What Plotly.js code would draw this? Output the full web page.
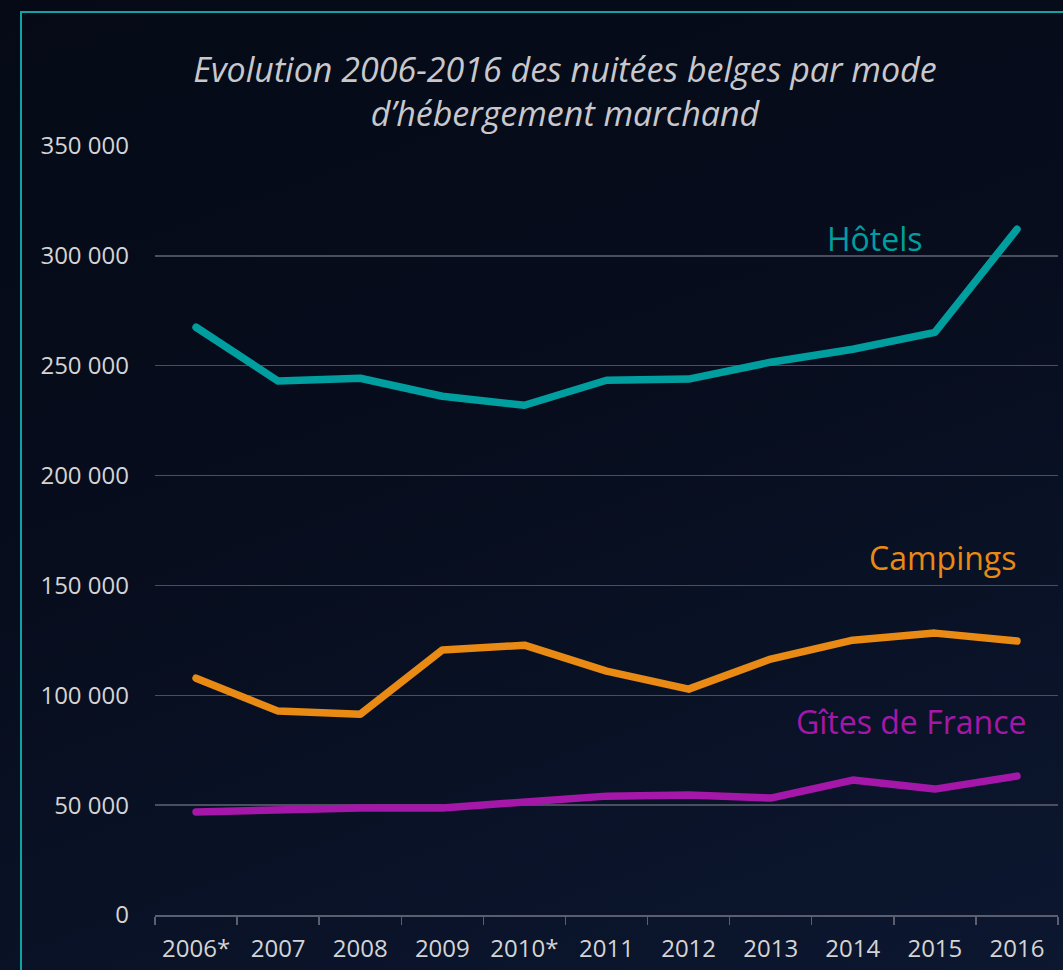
<!DOCTYPE html>
<html><head><meta charset="utf-8">
<script src="https://cdn.plot.ly/plotly-3.0.1.min.js"></script>
<style>
html,body{margin:0;padding:0;width:1063px;height:970px;overflow:hidden;}
body{background:linear-gradient(160deg,#050a16 0%,#070d1d 45%,#0c1730 100%);position:relative;}
#frame{position:absolute;left:20px;top:11px;width:1100px;height:1000px;border-top:2px solid #0fa3a3;border-left:2px solid #0fa3a3;}
#chart{position:absolute;left:0;top:0;width:1063px;height:970px;}
.js-line{stroke-linecap:round !important;stroke-linejoin:round !important;}
</style></head>
<body><div id="frame"></div><div id="chart"></div>
<script>
const years = ["2006*","2007","2008","2009","2010*","2011","2012","2013","2014","2015","2016"];
const hotels = [267500,243000,244300,236100,232000,243400,243900,251600,257500,265200,312100];
const campings = [107800,92800,91400,120600,122800,111000,102800,116500,125100,128300,124700];
const gites = [46900,47800,48700,48700,51000,54100,54600,53200,61400,57300,63200];
const seriesNames = ["Hôtels","Campings","Gîtes de France"];
const colors = ["#009e9e","#e88a14","#a517a8"];

const data = [hotels,campings,gites].map((v,i)=>({
  x: years, y: v, type:"scatter", mode:"lines", name: seriesNames[i],
  line:{color:colors[i], width:7.5}, hoverinfo:"skip"
}));

const layout = {
  width:1063, height:970,
  paper_bgcolor:"rgba(0,0,0,0)", plot_bgcolor:"rgba(0,0,0,0)",
  margin:{l:155, r:5, t:146, b:55},
  showlegend:false,
  font:{family:"Open Sans, sans-serif", color:"#d4d4d4"},
  title:{text:"<i>Evolution 2006-2016 des nuitées belges par mode<br>d’hébergement marchand</i>",
    x:0.5315, xanchor:"center", y:0.9155, yanchor:"middle", yref:"container",
    font:{size:34, color:"#c8c8cc", family:"Open Sans, sans-serif"}},
  xaxis:{type:"category", tickson:"boundaries", ticks:"outside", ticklen:8, tickwidth:1.5,
    tickcolor:"#5a5e6e", showline:true, linecolor:"#5a5e6e", linewidth:1.5, showgrid:false,
    ticklabelstandoff:12,
    tickfont:{size:24, color:"#d4d4d4"}, range:[-0.5,10.5], fixedrange:true},
  yaxis:{range:[0,350000], tickvals:[0,50000,100000,150000,200000,250000,300000,350000],
    ticktext:["0","50 000","100 000","150 000","200 000","250 000","300 000","350 000"],
    showgrid:true, gridcolor:"#4a4e5e", gridwidth:1.5, zeroline:false, ticks:"", ticklabelstandoff:25,
    tickfont:{size:24, color:"#d4d4d4"}, showline:false, fixedrange:true},
  annotations:[
    {text:seriesNames[0], xref:"paper", yref:"paper", x:0.797, y:0.880, xanchor:"center", yanchor:"middle", showarrow:false, font:{size:32, color:colors[0]}},
    {text:seriesNames[1], xref:"paper", yref:"paper", x:0.956, y:0.4655, xanchor:"right", yanchor:"middle", showarrow:false, font:{size:32, color:colors[1]}},
    {text:seriesNames[2], xref:"paper", yref:"paper", x:0.967, y:0.251, xanchor:"right", yanchor:"middle", showarrow:false, font:{size:32, color:colors[2]}}
  ]
};
Plotly.newPlot("chart", data, layout, {displayModeBar:false, staticPlot:true});
</script></body></html>
